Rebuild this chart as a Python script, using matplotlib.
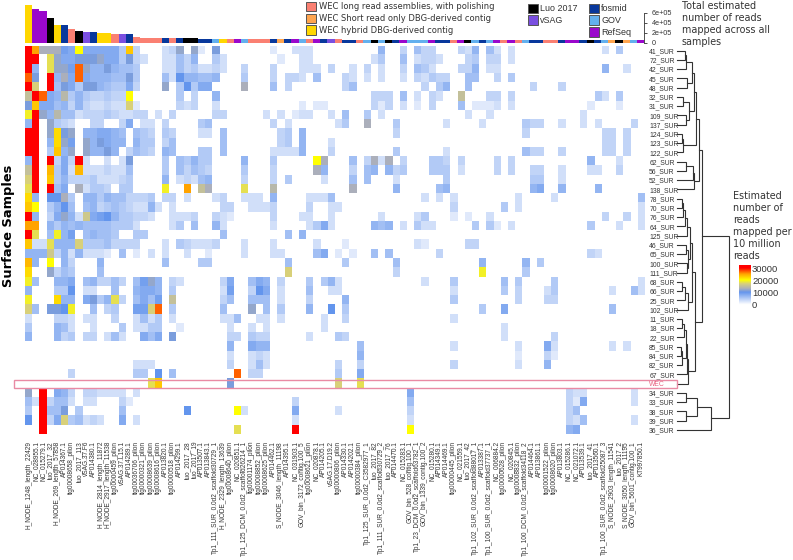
import matplotlib
matplotlib.use("Agg")
import matplotlib.pyplot as plt
import numpy as np
from matplotlib.colors import LinearSegmentedColormap
from matplotlib.patches import Rectangle

W, H = 793, 560

samples = ["41_SUR","72_SUR","42_SUR","45_SUR","48_SUR","32_SUR","31_SUR","109_SUR","137_SUR",
           "124_SUR","123_SUR","122_SUR","62_SUR","56_SUR","52_SUR","138_SUR","78_SUR","70_SUR",
           "76_SUR","64_SUR","125_SUR","46_SUR","65_SUR","100_SUR","111_SUR","68_SUR","66_SUR",
           "25_SUR","102_SUR","11_SUR","18_SUR","22_SUR","85_SUR","84_SUR","82_SUR","67_SUR",
           "WEC","34_SUR","33_SUR","38_SUR","39_SUR","36_SUR"]

contigs = ["H_NODE_1248_length_22429","NC_028955.1","NC_015279.1","luo_2017_32","H_NODE_269_length_57858",
           "AP014367.1","tig00008658_pilon","luo_2017_113","vSAG.37.F6","AP014380.1",
           "H_NODE_2814_length_11872","H_NODE_2917_length_11538","tig00000459_pilon","vSAG.37.L15.1","AP014289.1",
           "tig00036706_pilon","tig00000321_pilon","tig00008639_pilon","tig00008616_pilon","AP013820.1",
           "tig00000518_pilon","AP014299.1","luo_2017_28","luo_2017_19","AP013507.1","AP013843.1",
           "Tp1_111_SUR_0.0d2_scaffold30729_1","H_NODE_2329_length_13639","tig00008640_pilon","NC_020851.1",
           "Tp1_125_DCM_0.0d2_scaffold26214_1","tig00001174_pilon","tig00008852_pilon","tig00008625_pilon",
           "AP014462.1","S_NODE_3046_length_11198","AP014395.1","NC_031903.1","GOV_bin_3172_contig.100_5",
           "tig00008621_pilon","NC_020878.1","AP014205.1","vSAG.17.D19.2","tig00000806_pilon","AP014330.1",
           "AP014202.1","tig00000384_pilon","Tp1_125_SUR_0.0d2_C3582977_1","luo_2017_82",
           "Tp1_111_SUR_0.0d2_scaffold30729_2","luo_2017_76","AP014470.1","NC_015283.1","GOV_bin_528_contig.100_1",
           "Tp1_23_DCM_0.0d2_scaffold63782_1","GOV_bin_1339_contig.100_2","NC_015280.1","AP014349.1","AP014469.1",
           "tig00000445_pilon","NC_021559.1","luo_2017_42","Tp1_102_SUR_0.0d2_scaffold88017_1","AP013387.1",
           "Tp1_100_SUR_0.0d2_scaffold37737_1","NC_006884.2","tig00000628_pilon","NC_020845.1","tig00008832_pilon",
           "Tp1_100_DCM_0.0d2_scaffold34118_2","AP014464.1","AP013861.1","tig00001522_pilon","tig00008620_pilon",
           "AP013803.1","NC_015286.1","NC_021072.1","AP013539.1","luo_2017_41","AP013560.1",
           "Tp1_100_SUR_0.0d2_scaffold25087_3","S_NODE_2903_length_11541","luo_2017_2","S_NODE_3050_length_11195",
           "GOV_bin_5601_contig.100_1","KT997850.1"]

# total reads per contig (top bars)
totals = [7.55e5,6.7e5,6.3e5,4.95e5,3.6e5,3.5e5,2.7e5,2.3e5,2.15e5,2.1e5,1.9e5,1.9e5,1.75e5,1.75e5,1.65e5,
          1.1e5,1.0e5,1.0e5,0.95e5,0.9e5,0.9e5,0.9e5,0.85e5,0.85e5,0.75e5,0.75e5,0.75e5,0.75e5,0.75e5,0.7e5,
          0.7e5,0.7e5,0.7e5,0.7e5,0.7e5,0.65e5,0.65e5,0.65e5,0.65e5,0.65e5,0.65e5,0.65e5,0.65e5,0.65e5,0.6e5,
          0.6e5,0.6e5,0.6e5,0.6e5,0.6e5,0.6e5,0.6e5,0.6e5,0.6e5,0.6e5,0.6e5,0.55e5,0.55e5,0.55e5,0.55e5,
          0.55e5,0.55e5,0.55e5,0.55e5,0.55e5,0.55e5,0.55e5,0.55e5,0.5e5,0.5e5,0.5e5,0.5e5,0.5e5,0.5e5,0.5e5,
          0.5e5,0.5e5,0.5e5,0.5e5,0.45e5,0.45e5,0.45e5,0.45e5,0.45e5,0.45e5,0.45e5]

# estimated reads per 10 million, in thousands; base-36 digit per cell for the first 38 contigs
left_cells = [
"upddd98k888885n4...34c.c2.b.......2..3",
"uu.ic88bbbc885b43..33647..53.......2",
"u7.icc9rc77b7665...336453343..4...4",
"rb.u7d8r877766b5...63a77667...5...4.44",
"uh.u6b85bb765584...c.5a588....d...6.4",
"fur87e57544544k......5.4..7",
"bn886747433433h2.....434..3",
"juc7e663444543344.3.4.....44.....3.3.2",
"7u.c543..44..48.33.4....56........4.3",
"uu.cmbc.778876.654.54...33.6.......45",
"uu.7mc9.c7b877.755.46......6.......45",
"uu.5n7c.c77b7.4654.76...55.6......3333",
"7u.u484u3..3.3b....5.65755....7...5",
"fu.o583o3334336....5.64654....5...4",
"hu.n57444533345....7.34367....4...4.5",
"iu.u68.d3554.55....j..p.fd....i...e",
"m7.aad5.7757664445.44.3...34..333.7",
"nk.57a6.67456543373.3......44..3334",
"u7.48c73g89a755443..3334..432.....4",
"pp.7576766665553....35.6..73......3",
"ui.6j79.67665..55..........6........6",
"n33i777h55564444...3.543334...3...3",
"777g47373332.6.2.3.3..3..2....3...33",
"o7.k.74...7........6....55..........6",
"m..c465...6.........................h",
"j6..778.674464.69c7.43.....48..687.4",
"7...55a.33..6..7887.5......39..4a8.3",
"j...m77.8b57i4.6869.f......46..666.3",
"h6.bbaj..6.45..99hr.5......6...c.6.5",
"3...443.33..4..3635.3......336..33.3",
"5...763..3...5.3355..2......3..3.3",
"7...745.44.363..868.b.......44.544",
"............................7..877",
"............................3..343",
"...............333..........4..363",
"......4........55.a.6........r.44",
".................in.........b",
"c.u.874.443333.3",
"63u4663.33...42",
"5.u66b.5.....6........a",
"a.u48h56343..8.3",
"..u",
]

# same quantity for contigs 38-85, listed per sample as {contig index: thousands}
right_cells = [
{38:3,39:3,49:7,52:4,54:6,55:4,56:4,60:4,61:3,62:7,64:6,65:3,67:3,80:3,82:5},
{38:3,39:3,48:3,49:5,52:6,54:3,55:4,56:4,57:3,61:4,62:5,64:4,65:4,67:3},
{38:3,39:3,40:3,42:4,45:3,47:4,49:3,52:4,54:6,55:5,56:3,60:4,61:4,62:7,64:3,65:3,80:7,83:3},
{38:3,40:6,44:4,45:3,47:3,49:3,52:3,54:4,55:3,56:5,57:4,58:4,61:6,62:6,65:4,67:5},
{44:4,45:6,55:4,57:5,58:7,61:6,70:4,74:4},
{48:4,49:4,50:4,52:6,54:3,56:4,57:3,60:15,64:4,65:4,67:4,79:5,80:3,82:5},
{38:2,40:2,41:2,48:4,49:2,50:4,52:3,54:2,56:4,60:6,62:2,63:2,64:2,65:3,67:3,78:2,82:2},
{38:3,39:3,42:3,44:6,47:5,49:3,61:3,64:3,77:3},
{43:3,44:5,47:13,51:5,58:3,63:3,69:5,70:4,71:4,74:3,77:3,79:3,84:4},
{38:7,51:4,69:4,80:4,81:4,83:4},
{38:7,42:3,80:4,81:4,83:4},
{38:7,42:4,51:5,58:3,69:6,70:4,71:4,74:4,80:4,81:4,83:4},
{40:20,41:13,45:6,47:4,48:13,49:3,50:13,52:4,56:5,57:5,58:4,60:4,65:4,67:4,78:7,82:3},
{40:13,41:7,45:4,47:6,48:7,50:7,51:4,52:5,56:5,57:5,58:5,60:3,65:4,67:4,70:4,71:4,74:3,78:3,79:3,82:4},
{41:3,45:6,47:6,51:3,58:5,70:5,71:5,74:3},
{45:13,51:7,57:6,58:7,70:7,71:8,74:7,79:7},
{39:3,40:3,41:3,42:6,55:3,57:3,59:3,68:3,73:3,85:6},
{39:4,42:3,43:3,59:4,66:5,68:3,85:3},
{38:3,39:3,42:3,49:3,54:3,55:5,59:2,61:2,64:3,80:4,83:4,85:3},
{39:3,40:5,41:8,42:3,48:7,49:6,50:7,52:3,54:5,55:3,56:3,62:5,64:5,65:2,67:3,78:5,82:3,85:3},
{38:7},
{40:3,44:2,54:3,55:2,61:4,62:4},
{40:6,41:8,43:2,45:2,48:6,50:6,57:4,78:4,79:3},
{44:5,51:6,63:7,69:7,71:5},
{51:4,63:19,69:5},
{39:5,41:5,42:7,43:3,55:3,59:5,66:6,68:5,73:5,85:3},
{39:6,42:3,43:3,59:3,66:5,68:4,72:3,73:5,81:3,84:6,85:3},
{39:4,44:7,59:5,68:4,72:4,73:4},
{39:7,42:10,44:5,63:5,66:8,81:6},
{41:3,44:4,59:3},
{41:3,66:3},
{39:3,43:5,44:4,66:3,73:4},
{46:6,59:3,68:3,72:8,73:3,81:3,83:3},
{46:7,68:2,72:4,73:2},
{43:4,46:4,59:4,68:3,72:7},
{43:5,46:8},
{43:17,46:18},
{53:8,75:4,76:3,77:3,84:3},
{37:4,53:6,75:4,76:2,77:8,84:3},
{29:20,30:3,37:8,43:3,53:4,75:4,76:6},
{37:3,53:3,75:4,76:3,77:6,84:3},
{29:18,37:30,53:20,75:7,76:8},
]

# clustering of samples: (merge height, child, child); ints are row indices
tree_top = (19.3,
            (17, (15, (9, (8, 0, 1), 2), (9.7, 3, 4)),
                 (12.3, (6.3, 5, 6), (9, 7, 8))),
            (6.3, (4.7, 9, 10), 11))
tree_upper = (22, tree_top, (17.3, (16.3, (9, 12, 13), 14), 15))
tree_mid = (15,
            (13, (9.5, (8, (6, (5, 16, 17), 18), 19), 20),
                 (11, (9, 21, 22), (10, 23, 24))),
            (11, (8, (5, 25, 26), 27), 28))
tree_low = (10.5, (10, (9, (6.5, (5, 29, 30), 31), (4.5, (4, 32, 33), 34)), 35), 36)
tree_main = (24.7, tree_upper, (17.5, tree_mid, tree_low))
tree_out = (34, (20, (9, 37, 38), (8.5, 39, 40)), 41)
tree_root = (52, tree_main, tree_out)

ticks_total = [0, 2e5, 4e5, 6e5]
ticks_total_labels = ["0", "2e+05", "4e+05", "6e+05"]
ticks_scale = [0, 10000, 20000, 30000]

legend_left = [("WEC long read assemblies, with polishing", "#fa8072"),
               ("WEC Short read only DBG-derived contig", "#ffa54f"),
               ("WEC hybrid DBG-derived contig", "#ffd700")]
legend_mid = [("Luo 2017", "#000000"), ("vSAG", "#7a4fe0")]
legend_right = [("fosmid", "#08389c"), ("GOV", "#63b0ee"), ("RefSeq", "#9a08cc")]


def contig_color(name):
    if name.startswith("tig"):
        return legend_left[0][1]
    if name.startswith("S_NODE"):
        return legend_left[1][1]
    if name.startswith("H_NODE"):
        return legend_left[2][1]
    if name.startswith("luo"):
        return legend_mid[0][1]
    if name.startswith("vSAG"):
        return legend_mid[1][1]
    if name.startswith("AP"):
        return legend_right[0][1]
    if name.startswith(("GOV", "Tp1")):
        return legend_right[1][1]
    return legend_right[2][1]


matrix = np.zeros((len(samples), len(contigs)))
for r, cells in enumerate(left_cells):
    for c, ch in enumerate(cells):
        if ch != ".":
            matrix[r, c] = int(ch, 36) * 1000
for r, cells in enumerate(right_cells):
    for c, v in cells.items():
        matrix[r, c] = v * 1000

stops = [(0, "#ffffff"), (10, "#6495ed"), (13, "#adb0ba"), (17, "#d8d07c"),
         (20, "#ffff00"), (25, "#ffa500"), (30, "#ff0000")]
cmap = LinearSegmentedColormap.from_list("reads", [(s / 30, c) for s, c in stops])

FONT = "Liberation Sans"
TXT = "#333333"


def box(x0, y0, x1, y1):
    return [x0 / W, 1 - y1 / H, (x1 - x0) / W, (y1 - y0) / H]


def ftext(x, y, s, **kw):
    return fig.text(x / W, 1 - y / H, s, **kw)


def frect(x0, y0, x1, y1, **kw):
    fig.add_artist(Rectangle((x0 / W, 1 - y1 / H), (x1 - x0) / W, (y1 - y0) / H,
                             transform=fig.transFigure, **kw))


fig = plt.figure(figsize=(W / 100, H / 100), dpi=100)
HX0, HX1, HY0, HY1 = 25, 644.2, 46, 434.5

# heat map
ax = fig.add_axes(box(HX0, HY0, HX1, HY1))
ax.imshow(matrix, cmap=cmap, vmin=0, vmax=30000, aspect="auto", interpolation="nearest")
for s in ax.spines.values():
    s.set_visible(False)
ax.set_xticks(range(len(contigs)))
ax.set_xticklabels(contigs, rotation=90, fontsize=4.72, family=FONT, color=TXT)
ax.xaxis.set_tick_params(length=0, pad=4.6)
ax.yaxis.tick_right()
ax.set_yticks(range(len(samples)))
ax.set_yticklabels(samples, fontsize=4.85, family=FONT, color=TXT)
ax.yaxis.set_tick_params(length=0, pad=3.6)
ax.get_yticklabels()[samples.index("WEC")].set_color("#e8607f")

# top bars
ab = fig.add_axes(box(HX0, 2.7, HX1, 42.5))
ab.bar(range(len(contigs)), totals, width=1.0, color=[contig_color(n) for n in contigs], clip_on=False)
ab.set_xlim(-0.5, len(contigs) - 0.5)
ab.set_ylim(0, 8e5)
for k in ("top", "left", "bottom"):
    ab.spines[k].set_visible(False)
ab.spines["right"].set_bounds(0, 6e5)
ab.spines["right"].set_color("#333333")
ab.spines["right"].set_linewidth(0.6)
ab.set_xticks([])
ab.yaxis.tick_right()
ab.set_yticks(ticks_total)
ab.set_yticklabels(ticks_total_labels, fontsize=5.2, family=FONT, color=TXT)
ab.yaxis.set_tick_params(length=2, width=0.6, pad=3.5, color="#333333")

# dendrogram
ad = fig.add_axes(box(677, HY0, 730, HY1))
ad.set_xlim(0, 53)
ad.set_ylim(len(samples) - 0.5, -0.5)
ad.axis("off")


def draw(node):
    if isinstance(node, int):
        return node, 0.0
    h, a, b = node
    ya, ha = draw(a)
    yb, hb = draw(b)
    ad.plot([ha, h, h, hb], [ya, ya, yb, yb], color="#333333", lw=0.8, solid_joinstyle="miter",
            clip_on=False)
    return (ya + yb) / 2, h


draw(tree_root)

# colour scale
ac = fig.add_axes(box(739.3, 264.5, 750.7, 307))
grad = np.linspace(33000, -2000, 100).reshape(-1, 1)
ac.imshow(grad, cmap=cmap, vmin=0, vmax=30000, aspect="auto", extent=[0, 1, -2000, 33000])
for s in ac.spines.values():
    s.set_visible(False)
ac.set_xticks([])
ac.yaxis.tick_right()
ac.set_yticks(ticks_scale)
ac.set_yticklabels([str(t) for t in ticks_scale], fontsize=6.8, family=FONT, color=TXT)
ac.yaxis.set_tick_params(length=0, pad=1)

# WEC highlight
frect(13.5, 379.7, 677, 388.3, fill=False, edgecolor="#e98aa4", linewidth=1.0, zorder=10)

# texts
ftext(8.5, 225.5, "Surface Samples", rotation=90, ha="center", va="center",
      fontsize=9.4, fontweight="bold", color="black")
for i, t in enumerate(["Total estimated", "number of reads", "mapped across all", "samples"]):
    ftext(681.5, 6 + i * 11.9, t, fontsize=6.9, va="center", color=TXT)
for i, t in enumerate(["Estimated", "number of", "reads", "mapped per", "10 million", "reads"]):
    ftext(733, 196 + i * 11.95, t, fontsize=6.9, va="center", color=TXT)

# legends
for i, (t, c) in enumerate(legend_left):
    y = 1.7 + i * 11.8
    frect(306, y, 316, y + 9.6, facecolor=c, edgecolor="#555555", linewidth=0.7)
    ftext(319, y + 5.2, t, fontsize=6.05, va="center", color=TXT)
for i, (t, c) in enumerate(legend_mid):
    y = 3.6 + i * 11.6
    frect(527.5, y, 538, y + 9.6, facecolor=c, edgecolor="#555555", linewidth=0.7)
    ftext(540, y + 5.2, t, fontsize=6.4, family=FONT, va="center", color=TXT)
for i, (t, c) in enumerate(legend_right):
    y = 3.6 + i * 11.8
    frect(588.5, y, 599, y + 9.6, facecolor=c, edgecolor="#555555", linewidth=0.7)
    ftext(601, y + 5.2, t, fontsize=6.5, family=FONT, va="center", color=TXT)

fig.savefig("out.png", dpi=100)
